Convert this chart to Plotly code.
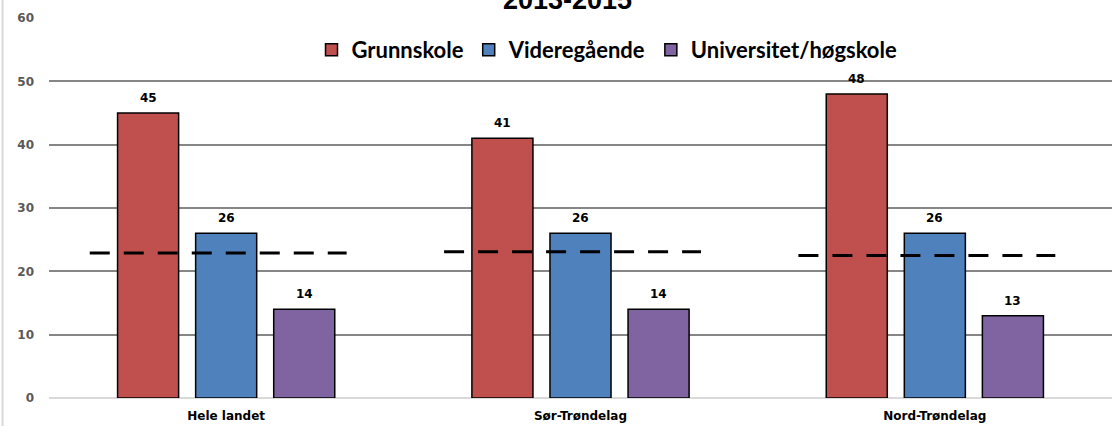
import plotly.graph_objects as go

categories = ["Hele landet", "Sør-Trøndelag", "Nord-Trøndelag"]
series_names = ["Grunnskole", "Videregående", "Universitet/høgskole"]
grunnskole = [45, 41, 48]
videregaende = [26, 26, 26]
universitet = [14, 14, 13]
average = [22.9, 23.1, 22.5]
title_text = "2013-2015"
y_ticks = [0, 10, 20, 30, 40, 50, 60]

colors = ["#C0504D", "#4F81BD", "#8064A2"]
W, H = 1119, 426
ML, MR, MT, MB = 49, 7, 18, 28
plot_w = W - ML - MR
plot_h = H - MT - MB
BARGAP, GROUPGAP = 0.339, 0.218

xpos = list(range(len(categories)))
all_series = [grunnskole, videregaende, universitet]
fig = go.Figure()
for name, vals, col in zip(series_names, all_series, colors):
    fig.add_trace(go.Bar(
        x=xpos, y=vals, name=name,
        marker=dict(color=col, line=dict(color="black", width=1.5)),
    ))

for i, v in enumerate(average):
    fig.add_trace(go.Scatter(
        x=[i - 0.385, i + 0.34], y=[v, v], mode="lines",
        line=dict(color="black", width=3, dash="20px,14px"),
        showlegend=False, hoverinfo="skip",
    ))

# value labels above bars
slot = (1 - BARGAP) / len(all_series)
annotations = []
for s, vals in enumerate(all_series):
    off = (s - (len(all_series) - 1) / 2) * slot
    for i, v in enumerate(vals):
        annotations.append(dict(
            x=i + off, y=v, text=str(v), showarrow=False,
            xanchor="center", yanchor="bottom", yshift=6,
            font=dict(family="DejaVu Sans", size=12, color="black", weight="bold"),
        ))

annotations.append(dict(
    text=title_text, xref="paper", yref="paper",
    x=(567 - ML) / plot_w, y=1 + (MT - 17) / plot_h,
    xanchor="center", yanchor="bottom", showarrow=False,
    font=dict(family="Liberation Sans", size=27, color="black", weight="bold")))

fig.update_layout(
    width=W, height=H,
    margin=dict(l=ML, r=MR, t=MT, b=MB, pad=0, autoexpand=False),
    plot_bgcolor="white", paper_bgcolor="white",
    barmode="group", bargap=BARGAP, bargroupgap=GROUPGAP,
    showlegend=True,
    legend=dict(orientation="h", x=(607 - ML) / plot_w, xanchor="center",
                y=1 - (50 - MT) / plot_h, yanchor="middle",
                font=dict(family="Lato", size=22, color="black", weight="bold"),
                bgcolor="rgba(0,0,0,0)", traceorder="normal"),
    xaxis=dict(range=[-0.5, 2.5], tickvals=xpos, ticktext=categories,
               showgrid=False, zeroline=False, showline=False, ticks="",
               automargin=False,
               tickfont=dict(family="DejaVu Sans", size=12, color="black", weight="bold"),
               ticklabelstandoff=9),
    yaxis=dict(range=[0, 60], tickvals=y_ticks, showgrid=True,
               gridcolor="#868686", gridwidth=1.5, zeroline=True,
               zerolinecolor="#D9D9D9", zerolinewidth=2, showline=False,
               ticks="", ticklabelstandoff=14, automargin=False,
               tickfont=dict(family="DejaVu Sans", size=12, color="#595959", weight="bold")),
    annotations=annotations,
    shapes=[dict(type="line", xref="paper", yref="paper",
                 x0=(2.5 - ML) / plot_w, x1=(2.5 - ML) / plot_w,
                 y0=-MB / plot_h, y1=1 + MT / plot_h,
                 line=dict(color="#D9D9D9", width=2))],
)

fig.write_html("out.html", config={"displayModeBar": False},
               post_script="document.body.style.margin='0';document.body.style.overflow='hidden';")
